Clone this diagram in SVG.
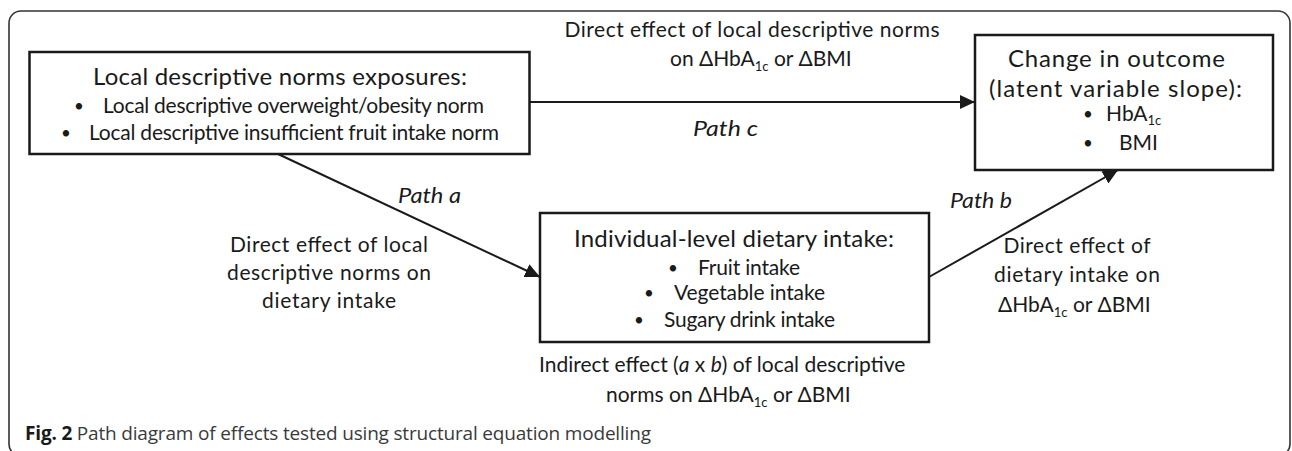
<svg xmlns="http://www.w3.org/2000/svg" width="1292" height="451" viewBox="0 0 1292 451">
  <style>
    .t { font-family: Lato, "Liberation Sans", sans-serif; font-size: 21px; fill: #1a1a1a; }
    .h { font-size: 24px; }
    .i { font-style: italic; }
    .b { font-size: 17px; }
    .sub { font-size: 13px; }
    .box { fill: #ffffff; stroke: #1a1a1a; stroke-width: 2.5; }
    .edge { stroke: #1a1a1a; stroke-width: 2; fill: none; }
    .cap { font-family: "Open Sans", "Liberation Sans", sans-serif; font-size: 19px; fill: #3a3a3a; }
  </style>
  <defs>
    <marker id="arr" markerUnits="userSpaceOnUse" markerWidth="16" markerHeight="14" refX="15" refY="7" orient="auto">
      <path d="M0,0 L15,7 L0,14 Z" fill="#1a1a1a"/>
    </marker>
  </defs>
  <rect x="9" y="11" width="1281" height="445" rx="12" fill="#ffffff" stroke="#333333" stroke-width="1.6"/>

  <g id="connectors">
    <line class="edge" x1="529.5" y1="102" x2="975" y2="102" marker-end="url(#arr)"/>
    <line class="edge" x1="278" y1="154" x2="540" y2="277" marker-end="url(#arr)"/>
    <line class="edge" x1="929" y1="277" x2="1118" y2="170" marker-end="url(#arr)"/>
  </g>

  <g id="node-exposures">
    <rect class="box" x="29.5" y="52" width="500" height="102"/>
    <text class="t h" x="280" y="85" text-anchor="middle" textLength="374">Local descriptive norms exposures:</text>
    <text class="t b" x="74" y="112">•</text>
    <text class="t" x="103" y="113" textLength="381">Local descriptive overweight/obesity norm</text>
    <text class="t b" x="61" y="139">•</text>
    <text class="t" x="89" y="140" textLength="410">Local descriptive insufficient fruit intake norm</text>
  </g>

  <g id="node-outcome">
    <rect class="box" x="975" y="35" width="298" height="135"/>
    <text class="t h" x="1008" y="67" textLength="217">Change in outcome</text>
    <text class="t h" x="989" y="97" textLength="253">(latent variable slope):</text>
    <text class="t b" x="1083" y="120">•</text>
    <text class="t" x="1106" y="121">HbA<tspan class="sub" dy="4">1c</tspan></text>
    <text class="t b" x="1083" y="149">•</text>
    <text class="t" x="1119" y="150">BMI</text>
  </g>

  <g id="node-dietary">
    <rect class="box" x="540" y="213" width="389" height="129"/>
    <text class="t h" x="574" y="247" textLength="320">Individual-level dietary intake:</text>
    <text class="t b" x="668" y="274">•</text>
    <text class="t" x="698" y="275" textLength="102">Fruit intake</text>
    <text class="t b" x="644" y="299">•</text>
    <text class="t" x="674" y="300" textLength="151">Vegetable intake</text>
    <text class="t b" x="634" y="326">•</text>
    <text class="t" x="664" y="327" textLength="171">Sugary drink intake</text>
  </g>

  <g id="labels">
    <text class="t" x="752" y="37" text-anchor="middle" textLength="375">Direct effect of local descriptive norms</text>
    <text class="t" x="670" y="66">on ΔHbA<tspan class="sub" dy="5">1c</tspan><tspan dy="-5"> or ΔBMI</tspan></text>
    <text class="t i" x="693" y="136" textLength="65" lengthAdjust="spacingAndGlyphs">Path c</text>

    <text class="t i" x="398" y="203" textLength="63" lengthAdjust="spacingAndGlyphs">Path a</text>
    <text class="t" x="329" y="252" text-anchor="middle" textLength="198">Direct effect of local</text>
    <text class="t" x="329" y="280" text-anchor="middle" textLength="204">descriptive norms on</text>
    <text class="t" x="329" y="308" text-anchor="middle" textLength="134">dietary intake</text>

    <text class="t i" x="950" y="208" textLength="62" lengthAdjust="spacingAndGlyphs">Path b</text>
    <text class="t" x="1077" y="253" text-anchor="middle" textLength="147">Direct effect of</text>
    <text class="t" x="1077" y="282" text-anchor="middle" textLength="166">dietary intake on</text>
    <text class="t" x="998" y="312">ΔHbA<tspan class="sub" dy="5">1c</tspan><tspan dy="-5"> or ΔBMI</tspan></text>

    <text class="t" x="539" y="372">Indirect effect (<tspan class="i">a</tspan> x <tspan class="i">b</tspan>) of local descriptive</text>
    <text class="t" x="606" y="402">norms on ΔHbA<tspan class="sub" dy="5">1c</tspan><tspan dy="-5"> or ΔBMI</tspan></text>
  </g>

  <text class="cap" x="25" y="440" textLength="626"><tspan font-weight="bold" fill="#1a1a1a">Fig. 2</tspan> Path diagram of effects tested using structural equation modelling</text>
</svg>
